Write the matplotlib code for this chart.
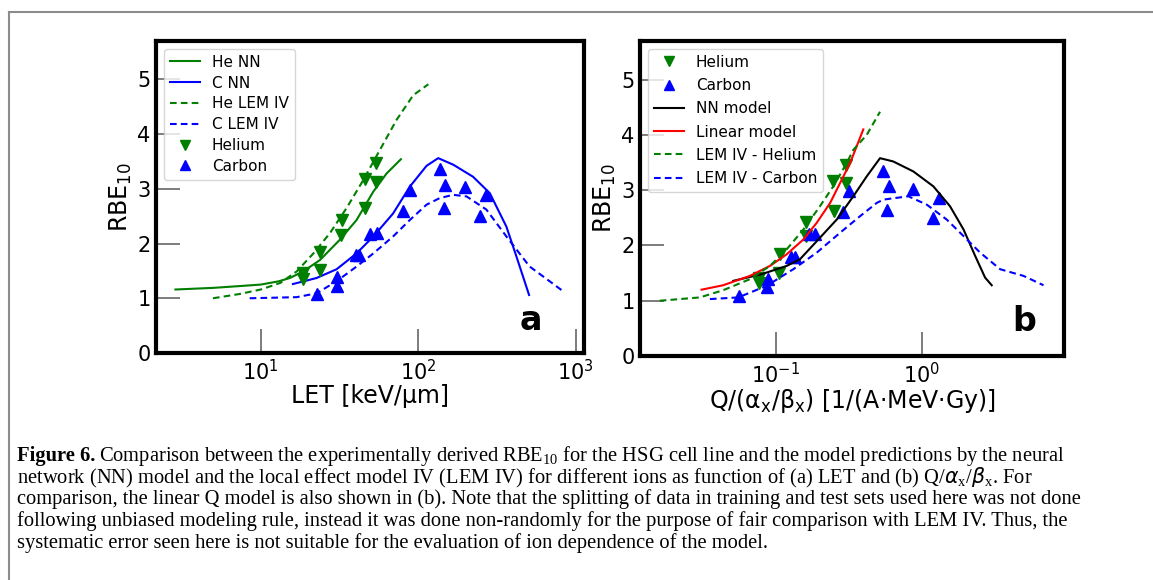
import matplotlib
matplotlib.use("Agg")
import matplotlib.pyplot as plt
from matplotlib.ticker import NullLocator, FixedLocator
from matplotlib.lines import Line2D

# ---- panel a : RBE10 vs LET ----
he_nn_let = [2.87, 5, 8, 10, 13, 15.3, 18.6, 23.8, 31.8, 40.6, 51.9, 63, 77.6]
he_nn_rbe = [1.16, 1.19, 1.23, 1.25, 1.31, 1.37, 1.49, 1.70, 2.07, 2.43, 2.95, 3.28, 3.54]

c_nn_let = [16.0, 22.6, 30.3, 40.6, 51.9, 69.3, 88.5, 113, 134, 167, 223, 285, 363, 421, 506]
c_nn_rbe = [1.26, 1.37, 1.53, 1.82, 2.13, 2.55, 3.04, 3.42, 3.56, 3.44, 3.22, 2.92, 2.31, 1.76, 1.06]

he_lem_let = [4.97, 7.4, 10, 13.3, 16.9, 21.6, 27.5, 35.1, 44.8, 57.1, 72.9, 93, 116]
he_lem_rbe = [1.00, 1.08, 1.16, 1.28, 1.49, 1.82, 2.19, 2.65, 3.16, 3.71, 4.26, 4.71, 4.91]

c_lem_let = [8.5, 16.9, 22.6, 30.3, 40.6, 51.9, 69.3, 88.5, 113, 137, 167, 203, 271, 363, 510, 684, 831]
c_lem_rbe = [1.00, 1.02, 1.09, 1.31, 1.58, 1.82, 2.13, 2.43, 2.71, 2.83, 2.89, 2.86, 2.62, 2.13, 1.58, 1.31, 1.13]

he_pts_let = [18.5, 18.5, 23.8, 23.8, 32.6, 32.2, 46.1, 46.1, 53.8, 53.8]
he_pts_rbe = [1.46, 1.35, 1.84, 1.52, 2.43, 2.16, 3.18, 2.65, 3.47, 3.13]

c_pts_let = [22.6, 30.3, 30.3, 40.2, 42.3, 49.3, 54.9, 80.4, 88.5, 137, 145, 148, 198, 246, 268]
c_pts_rbe = [1.08, 1.39, 1.23, 1.79, 1.79, 2.18, 2.20, 2.60, 2.98, 3.36, 2.65, 3.07, 3.04, 2.51, 2.89]

# ---- panel b : RBE10 vs Q/(alpha/beta) ----
he_pts_q = [0.0773, 0.0773, 0.1054, 0.107, 0.1614, 0.1614, 0.248, 0.252, 0.301, 0.301]
he_pts_q_rbe = [1.42, 1.33, 1.51, 1.84, 2.42, 2.17, 3.16, 2.62, 3.46, 3.13]

c_pts_q = [0.0564, 0.0868, 0.0891, 0.1274, 0.1356, 0.170, 0.186, 0.290, 0.320, 0.546, 0.575, 0.594, 0.877, 1.19, 1.32]
c_pts_q_rbe = [1.09, 1.24, 1.40, 1.80, 1.80, 2.20, 2.20, 2.60, 2.98, 3.35, 2.64, 3.07, 3.03, 2.50, 2.86]

nn_q = [0.0513, 0.0802, 0.1189, 0.1466, 0.201, 0.262, 0.340, 0.420, 0.518, 0.638, 0.875, 1.20, 1.56, 1.93, 2.32, 2.71, 3.01]
nn_q_rbe = [1.36, 1.48, 1.63, 1.75, 2.14, 2.47, 2.89, 3.25, 3.58, 3.52, 3.34, 3.07, 2.71, 2.29, 1.81, 1.42, 1.28]

lin_q = [0.0311, 0.0437, 0.0667, 0.0914, 0.119, 0.155, 0.191, 0.236, 0.276, 0.323, 0.398]
lin_q_rbe = [1.20, 1.28, 1.45, 1.63, 1.84, 2.11, 2.41, 2.77, 3.13, 3.49, 4.10]

he_lem_q = [0.0161, 0.0303, 0.0437, 0.0667, 0.0914, 0.119, 0.155, 0.201, 0.248, 0.306, 0.340, 0.42, 0.518]
he_lem_q_rbe = [1.00, 1.06, 1.19, 1.39, 1.63, 1.93, 2.29, 2.71, 3.07, 3.49, 3.73, 4.0, 4.42]

c_lem_q = [0.0355, 0.0555, 0.0868, 0.132, 0.191, 0.276, 0.378, 0.492, 0.546, 0.809, 1.08, 1.48, 1.93, 2.51, 3.44, 4.96, 6.81]
c_lem_q_rbe = [1.03, 1.06, 1.27, 1.57, 1.87, 2.23, 2.53, 2.77, 2.83, 2.89, 2.74, 2.47, 2.17, 1.87, 1.57, 1.45, 1.28]

caption_lines = [
    "Comparison between the experimentally derived RBE$_\\mathregular{10}$ for the HSG cell line and the model predictions by the neural",
    "network (NN) model and the local effect model IV (LEM IV) for different ions as function of (a) LET and (b) Q/$\\alpha_\\mathregular{x}$/$\\beta_\\mathregular{x}$. For",
    "comparison, the linear Q model is also shown in (b). Note that the splitting of data in training and test sets used here was not done",
    "following unbiased modeling rule, instead it was done non-randomly for the purpose of fair comparison with LEM IV. Thus, the",
    "systematic error seen here is not suitable for the evaluation of ion dependence of the model.",
]

GREEN = '#007f00'
BLUE = '#0000ff'
DASH = (0, (3.2, 2))

fig = plt.figure(figsize=(11.53, 5.80), dpi=100)
fig.patch.set_facecolor('white')

ax1 = fig.add_axes([156 / 1153, 1 - 353 / 580, 428 / 1153, 312 / 580])
ax2 = fig.add_axes([640 / 1153, 1 - 356 / 580, 424 / 1153, 315 / 580])


def style_axes(ax):
    ax.set_xscale('log')
    ax.set_ylim(0, 5.7)
    ax.yaxis.set_major_locator(FixedLocator([0, 1, 2, 3, 4, 5]))
    ax.xaxis.set_minor_locator(NullLocator())
    for s in ax.spines.values():
        s.set_linewidth(3)
        s.set_color('black')
    ax.tick_params(axis='both', which='major', direction='in', length=17, width=1.2,
                   color='#666666', labelsize=15, pad=4, top=False, right=False)
    ax.set_ylabel('RBE$_{10}$', fontsize=17, labelpad=2)


# panel a
ax1.plot(he_nn_let, he_nn_rbe, color=GREEN, lw=1.5, label='He NN')
ax1.plot(c_nn_let, c_nn_rbe, color=BLUE, lw=1.5, label='C NN')
ax1.plot(he_lem_let, he_lem_rbe, color=GREEN, lw=1.5, ls=DASH, label='He LEM IV')
ax1.plot(c_lem_let, c_lem_rbe, color=BLUE, lw=1.5, ls=DASH, label='C LEM IV')
ax1.plot(he_pts_let, he_pts_rbe, 'v', color=GREEN, ms=9, ls='none', label='Helium')
ax1.plot(c_pts_let, c_pts_rbe, '^', color=BLUE, ms=9, ls='none', label='Carbon')
style_axes(ax1)
ax1.set_xlim(2.16, 1130)
ax1.xaxis.set_major_locator(FixedLocator([10, 100, 1000]))
ax1.set_xlabel('LET [keV/μm]', fontsize=17, labelpad=0)
ax1.legend(loc='upper left', fontsize=11, labelspacing=0.38, handlelength=2.0,
           handletextpad=0.75, borderpad=0.4, markerscale=0.8)
ax1.text(0.875, 0.105, 'a', transform=ax1.transAxes, fontsize=24, fontweight='bold',
         ha='center', va='center')

# panel b
ax2.plot(he_pts_q, he_pts_q_rbe, 'v', color=GREEN, ms=9, ls='none', label='Helium')
ax2.plot(c_pts_q, c_pts_q_rbe, '^', color=BLUE, ms=9, ls='none', label='Carbon')
ax2.plot(nn_q, nn_q_rbe, color='black', lw=1.5, label='NN model')
ax2.plot(lin_q, lin_q_rbe, color='red', lw=1.5, label='Linear model')
ax2.plot(he_lem_q, he_lem_q_rbe, color=GREEN, lw=1.5, ls=DASH, label='LEM IV - Helium')
ax2.plot(c_lem_q, c_lem_q_rbe, color=BLUE, lw=1.5, ls=DASH, label='LEM IV - Carbon')
style_axes(ax2)
ax2.set_xlim(0.0118, 9.4)
ax2.xaxis.set_major_locator(FixedLocator([0.1, 1]))
ax2.set_xlabel('Q/(α$_\\mathregular{x}$/β$_\\mathregular{x}$) [1/(A·MeV·Gy)]', fontsize=17, labelpad=0)
ax2.legend(loc='upper left', fontsize=11, labelspacing=0.54, handlelength=2.0,
           handletextpad=0.75, borderpad=0.4, markerscale=0.85)
ax2.text(0.905, 0.11, 'b', transform=ax2.transAxes, fontsize=24, fontweight='bold',
         ha='center', va='center')

# page frame (top and left rules)
fig.add_artist(Line2D([9 / 1153, 1], [1 - 12 / 580, 1 - 12 / 580], transform=fig.transFigure,
                      color='#8c8c8c', lw=1.5))
fig.add_artist(Line2D([9 / 1153, 9 / 1153], [0, 1 - 12 / 580], transform=fig.transFigure,
                      color='#8c8c8c', lw=1.5))

# caption
cap_font = 'Liberation Serif'
cap_size = 14.8
ys = [456, 478, 499, 521, 543]
renderer = fig.canvas.get_renderer()
t0 = fig.text(17 / 1153, 1 - ys[0] / 580, 'Figure 6.', family=cap_font, fontsize=cap_size,
              fontweight='bold', va='center', ha='left')
bb = t0.get_window_extent(renderer=renderer)
fig.text((bb.x1 + 4) / 1153, 1 - ys[0] / 580, caption_lines[0], family=cap_font,
         fontsize=cap_size, va='center', ha='left')
for line, y in zip(caption_lines[1:], ys[1:]):
    fig.text(17 / 1153, 1 - y / 580, line, family=cap_font, fontsize=cap_size,
             va='center', ha='left')

plt.savefig('out.png', dpi=100, facecolor='white')
